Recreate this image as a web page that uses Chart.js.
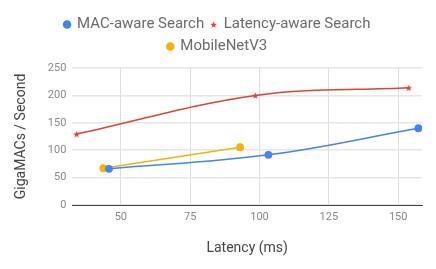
<!DOCTYPE html>
<html>
<head>
<meta charset="utf-8">
<script src="https://cdn.jsdelivr.net/npm/chart.js@4"></script>
<style>
  html, body { margin: 0; padding: 0; background: #fff; }
  #wrap { width: 436px; height: 269px; }
</style>
</head>
<body>
<div id="wrap"><canvas id="chart"></canvas></div>
<script>
// Data
const macLatency = [45.7, 103.2, 157.3];
const macValues = [66, 91.5, 140];
const latLatency = [34, 98.5, 153.8];
const latValues = [129.5, 200, 214];
const mobLatency = [43.7, 93];
const mobValues = [67, 105.5];
const xTicks = [50, 75, 100, 125, 150];
const yTicks = [0, 50, 100, 150, 200, 250];

const toPoints = (xs, ys) => xs.map((x, i) => ({ x: x, y: ys[i] }));

// small filled five-point star used as a point marker
function makeStar(size, color) {
  const c = document.createElement('canvas');
  c.width = size;
  c.height = size;
  const ctx = c.getContext('2d');
  const cx = size / 2, cy = size / 2 + 0.4;
  const outer = size / 2, inner = outer * 0.45;
  ctx.beginPath();
  for (let i = 0; i < 10; i++) {
    const r = i % 2 === 0 ? outer : inner;
    const a = -Math.PI / 2 + i * Math.PI / 5;
    ctx.lineTo(cx + r * Math.cos(a), cy + r * Math.sin(a));
  }
  ctx.closePath();
  ctx.fillStyle = color;
  ctx.fill();
  return c;
}

const redStar = makeStar(7, "#DB4437");
const legendStar = makeStar(7, "#DB4437");

// push the plot down a bit below the legend
const legendGap = {
  id: 'legendGap',
  beforeInit(chart) {
    const fit = chart.legend.fit;
    chart.legend.fit = function () {
      fit.bind(chart.legend)();
      this.height += 4;
    };
  }
};

new Chart("chart", {
  type: 'line',
  data: {
    datasets: [{
      label: "MAC-aware Search",
      data: toPoints(macLatency, macValues),
      borderColor: "#4285F4",
      backgroundColor: "#4285F4",
      borderWidth: 1.5,
      pointStyle: 'circle',
      pointRadius: 3.2,
      tension: 0.4,
    }, {
      label: "Latency-aware Search",
      data: toPoints(latLatency, latValues),
      borderColor: "#DB4437",
      backgroundColor: "#DB4437",
      borderWidth: 1.5,
      pointStyle: redStar,
      pointRadius: 4,
      tension: 0.35,
    }, {
      label: "MobileNetV3",
      data: toPoints(mobLatency, mobValues),
      borderColor: "#F4B400",
      backgroundColor: "#F4B400",
      borderWidth: 1.5,
      pointStyle: 'circle',
      pointRadius: 3.2,
      tension: 0.4,
    }]
  },
  plugins: [legendGap],
  options: {
    responsive: true,
    maintainAspectRatio: false,
    animation: false,
    layout: { padding: { left: 13, right: 14, top: 10, bottom: 12 } },
    plugins: {
      legend: {
        position: 'top',
        labels: {
          usePointStyle: true,
          boxWidth: 5,
          boxHeight: 5,
          padding: 7,
          color: '#6b6b6b',
          font: { family: 'Roboto', size: 15 },
          generateLabels: chart => {
            const items = Chart.defaults.plugins.legend.labels.generateLabels(chart);
            return items.map(item => {
              if (item.datasetIndex === 1) item.pointStyle = legendStar;
              return item;
            });
          }
        }
      },
      tooltip: { enabled: false }
    },
    scales: {
      x: {
        type: 'linear',
        min: 32.5,
        max: 158.6,
        afterBuildTicks: axis => { axis.ticks = xTicks.map(v => ({ value: v })); },
        grid: { color: '#ddd', drawTicks: false },
        border: { display: true, color: '#444' },
        ticks: { color: '#888', font: { family: 'Roboto', size: 11 }, padding: 6 },
        title: {
          display: true,
          text: 'Latency (ms)',
          color: '#444',
          font: { family: 'Roboto', size: 14 },
          padding: { top: 10, bottom: 0 }
        }
      },
      y: {
        min: 0,
        max: 250,
        afterBuildTicks: axis => { axis.ticks = yTicks.map(v => ({ value: v })); },
        grid: { color: '#e6e6e6', drawTicks: false, lineWidth: 1.5 },
        border: { display: false },
        ticks: { color: '#888', font: { family: 'Roboto', size: 11 }, padding: 6 },
        title: {
          display: true,
          text: 'GigaMACs / Second',
          color: '#444',
          font: { family: 'Roboto', size: 14 },
          padding: { top: 0, bottom: 12 }
        }
      }
    }
  }
});
</script>
</body>
</html>
